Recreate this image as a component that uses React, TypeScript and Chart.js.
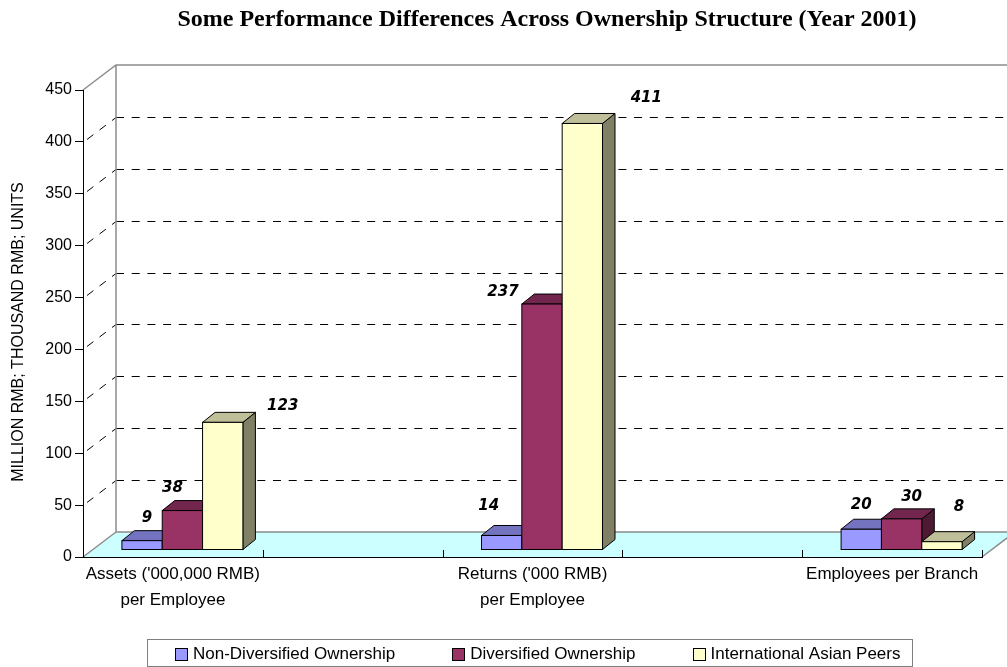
import React, { useEffect, useRef } from "react";
import { Chart, registerables } from "chart.js";

Chart.register(...registerables);

// ---------- data ----------
const TITLE = "Some Performance Differences Across Ownership Structure (Year 2001)";
const Y_AXIS_TITLE = "MILLION RMB; THOUSAND RMB; UNITS";
const CATEGORIES: (string | string[])[] = [
  ["Assets ('000,000 RMB)", "per Employee"],
  "",
  ["Returns ('000 RMB)", "per Employee"],
  "",
  "Employees per Branch",
];
const SERIES_NAMES = ["Non-Diversified Ownership", "Diversified Ownership", "International Asian Peers"];
const NON_DIVERSIFIED = [9, null, 14, null, 20];
const DIVERSIFIED = [38, null, 237, null, 30];
const INTERNATIONAL_PEERS = [123, null, 411, null, 8];
const Y_MIN = 0;
const Y_MAX = 450;
const Y_STEP = 50;

// ---------- styles ----------
const FRONT = ["#9999ff", "#993366", "#ffffcc"];
const TOP = ["#7373bf", "#73264d", "#bfbf99"];
const SIDE = ["#5c5c99", "#4d1a33", "#808066"];
// label offsets (px) from the top-centre of each bar's front face
const LABEL_OFFSETS: (number[] | null)[][] = [
  [[5, -23], null, [-13, -29], null, [0, -24]],
  [[-10, -22], null, [-39, -12], null, [10, -22]],
  [[60, -16], null, [64, -25], null, [17, -35]],
];
const SANS = "'Liberation Sans', Arial, sans-serif";
const WALL_DX = 33;
const WALL_DY = -25;
const BAR_SX = 9.5;
const BAR_SY = -7;
const BAR_DX = 12.5;
const BAR_DY = -10;

const threeD = {
  id: "threeD",
  beforeDraw(chart: any) {
    const { ctx, chartArea: a, scales } = chart;
    const y = scales.y;
    ctx.save();
    // dashed grid on back wall + diagonals
    ctx.strokeStyle = "#000";
    ctx.lineWidth = 1;
    ctx.setLineDash([8, 7.7]);
    for (let v = Y_MIN + Y_STEP; v < Y_MAX; v += Y_STEP) {
      const py = Math.round(y.getPixelForValue(v)) + 0.5;
      ctx.beginPath();
      ctx.moveTo(a.left + WALL_DX, py + WALL_DY);
      ctx.lineTo(a.right + WALL_DX + 40, py + WALL_DY);
      ctx.stroke();
      ctx.beginPath();
      ctx.moveTo(a.left + 4, py - 3);
      ctx.lineTo(a.left + WALL_DX, py + WALL_DY);
      ctx.stroke();
    }
    ctx.setLineDash([]);
    // floor
    const fb = y.getPixelForValue(0);
    ctx.fillStyle = "#ccffff";
    ctx.beginPath();
    ctx.moveTo(a.left, fb);
    ctx.lineTo(a.right, fb);
    ctx.lineTo(a.right + WALL_DX, fb + WALL_DY);
    ctx.lineTo(a.left + WALL_DX, fb + WALL_DY);
    ctx.closePath();
    ctx.fill();
    // wall borders (gray)
    ctx.strokeStyle = "#8c8c8c";
    ctx.lineWidth = 1.5;
    const top = y.getPixelForValue(Y_MAX);
    ctx.beginPath();
    ctx.moveTo(a.left, top);
    ctx.lineTo(a.left + WALL_DX, top + WALL_DY);
    ctx.lineTo(a.right + WALL_DX + 40, top + WALL_DY);
    ctx.moveTo(a.left + WALL_DX, top + WALL_DY);
    ctx.lineTo(a.left + WALL_DX, fb + WALL_DY);
    ctx.lineTo(a.right + WALL_DX, fb + WALL_DY);
    ctx.moveTo(a.left, fb);
    ctx.lineTo(a.left + WALL_DX, fb + WALL_DY);
    ctx.moveTo(a.right, fb);
    ctx.lineTo(a.right + WALL_DX, fb + WALL_DY);
    ctx.stroke();
    // category tick marks on floor front
    ctx.strokeStyle = "#000";
    ctx.lineWidth = 1;
    const n = CATEGORIES.length;
    for (let k = 1; k <= n; k++) {
      const px = Math.round(a.left + ((a.right - a.left) * k) / n) + 0.5;
      ctx.beginPath();
      ctx.moveTo(px, fb);
      ctx.lineTo(px, fb - 7);
      ctx.stroke();
    }
    ctx.restore();
  },
  afterDatasetsDraw(chart: any) {
    const { ctx } = chart;
    ctx.save();
    ctx.strokeStyle = "#000";
    ctx.lineWidth = 1;
    ctx.lineJoin = "miter";
    const n = CATEGORIES.length;
    for (let j = 0; j < n; j++) {
      chart.data.datasets.forEach((ds: any, i: number) => {
        const val = ds.data[j];
        if (val === null || val === undefined) return;
        const el = chart.getDatasetMeta(i).data[j];
        const p = el.getProps(["x", "y", "base", "width"], true);
        const x0 = p.x - p.width / 2 + BAR_SX;
        const x1 = p.x + p.width / 2 + BAR_SX;
        const yt = p.y + BAR_SY;
        const yb = p.base + BAR_SY;
        // side
        ctx.fillStyle = SIDE[i];
        ctx.beginPath();
        ctx.moveTo(x1, yt);
        ctx.lineTo(x1 + BAR_DX, yt + BAR_DY);
        ctx.lineTo(x1 + BAR_DX, yb + BAR_DY);
        ctx.lineTo(x1, yb);
        ctx.closePath();
        ctx.fill();
        ctx.stroke();
        // top
        ctx.fillStyle = TOP[i];
        ctx.beginPath();
        ctx.moveTo(x0, yt);
        ctx.lineTo(x1, yt);
        ctx.lineTo(x1 + BAR_DX, yt + BAR_DY);
        ctx.lineTo(x0 + BAR_DX, yt + BAR_DY);
        ctx.closePath();
        ctx.fill();
        ctx.stroke();
        // front
        ctx.fillStyle = FRONT[i];
        ctx.fillRect(x0, yt, x1 - x0, yb - yt);
        ctx.strokeRect(x0, yt, x1 - x0, yb - yt);
      });
    }
    ctx.restore();
  },
  afterDraw(chart: any) {
    const { ctx } = chart;
    ctx.save();
    // value labels
    ctx.fillStyle = "#000";
    ctx.font = "italic bold 15px 'DejaVu Sans', Verdana, sans-serif";
    ctx.textAlign = "center";
    ctx.textBaseline = "middle";
    chart.data.datasets.forEach((ds: any, i: number) => {
      ds.data.forEach((val: any, j: number) => {
        if (val === null || val === undefined) return;
        const el = chart.getDatasetMeta(i).data[j];
        const p = el.getProps(["x", "y"], true);
        const off = LABEL_OFFSETS[i][j] || [0, -20];
        ctx.fillText(String(val), p.x + BAR_SX + off[0], p.y + BAR_SY + off[1]);
      });
    });
    // title
    ctx.font = "bold 24px 'Liberation Serif', 'Times New Roman', serif";
    ctx.fillText(TITLE, 547, 20);
    // y axis title
    ctx.save();
    ctx.translate(19, 332);
    ctx.rotate(-Math.PI / 2);
    ctx.font = `16px ${SANS}`;
    ctx.fillText(Y_AXIS_TITLE, 0, 0);
    ctx.restore();
    // legend
    ctx.strokeStyle = "#7f7f7f";
    ctx.lineWidth = 1;
    ctx.strokeRect(147.5, 639.5, 765, 27);
    ctx.font = `17px ${SANS}`;
    ctx.textAlign = "left";
    const box = 12;
    const gap = 6;
    const itemGap = 57;
    const widths = SERIES_NAMES.map((s) => ctx.measureText(s).width);
    let lx = 175;
    const ly = 653.5;
    SERIES_NAMES.forEach((name, i) => {
      const bx = Math.round(lx) + 0.5;
      const by = Math.round(ly - box / 2) + 0.5;
      ctx.fillStyle = FRONT[i];
      ctx.fillRect(bx, by, box, box);
      ctx.strokeStyle = "#000";
      ctx.strokeRect(bx, by, box, box);
      ctx.fillStyle = "#000";
      ctx.fillText(name, lx + box + gap, ly + 1);
      lx += box + gap + widths[i] + itemGap;
    });
    ctx.restore();
  },
};

export default function App() {
  const ref = useRef<HTMLCanvasElement>(null);
  useEffect(() => {
    const chart = new Chart(ref.current as HTMLCanvasElement, {
      type: "bar",
      data: {
        labels: CATEGORIES as any,
        datasets: [
          { label: SERIES_NAMES[0], data: NON_DIVERSIFIED as any, backgroundColor: "rgba(0,0,0,0)", borderWidth: 0 },
          { label: SERIES_NAMES[1], data: DIVERSIFIED as any, backgroundColor: "rgba(0,0,0,0)", borderWidth: 0 },
          { label: SERIES_NAMES[2], data: INTERNATIONAL_PEERS as any, backgroundColor: "rgba(0,0,0,0)", borderWidth: 0 },
        ],
      },
      options: {
        responsive: false,
        animation: false,
        devicePixelRatio: 1,
        datasets: { bar: { categoryPercentage: 0.673, barPercentage: 1 } },
        layout: { padding: { top: 90, right: 25, left: 0, bottom: 0 } },
        plugins: { legend: { display: false }, title: { display: false }, tooltip: { enabled: false } },
        scales: {
          x: {
            offset: true,
            grid: { display: false, drawTicks: false },
            border: { display: true, color: "#000", width: 1 },
            ticks: { color: "#000", font: { family: SANS, size: 17, lineHeight: 1.5 }, padding: 5, maxRotation: 0, autoSkip: false },
            afterFit: (s: any) => {
              s.height = 110;
            },
          },
          y: {
            min: Y_MIN,
            max: Y_MAX,
            ticks: { stepSize: Y_STEP, color: "#000", font: { family: SANS, size: 16 }, padding: 3 },
            grid: { drawOnChartArea: false, drawTicks: true, tickLength: 8, color: "#000" },
            border: { display: true, color: "#000", width: 1 },
            afterFit: (s: any) => {
              s.width = 83;
            },
          },
        },
      } as any,
      plugins: [threeD],
    });
    return () => chart.destroy();
  }, []);
  return (
    <div style={{ position: "absolute", left: 0, top: 0, width: 1007, height: 667, background: "#fff" }}>
      <canvas ref={ref} width={1007} height={667} style={{ display: "block", width: 1007, height: 667 }} />
    </div>
  );
}
